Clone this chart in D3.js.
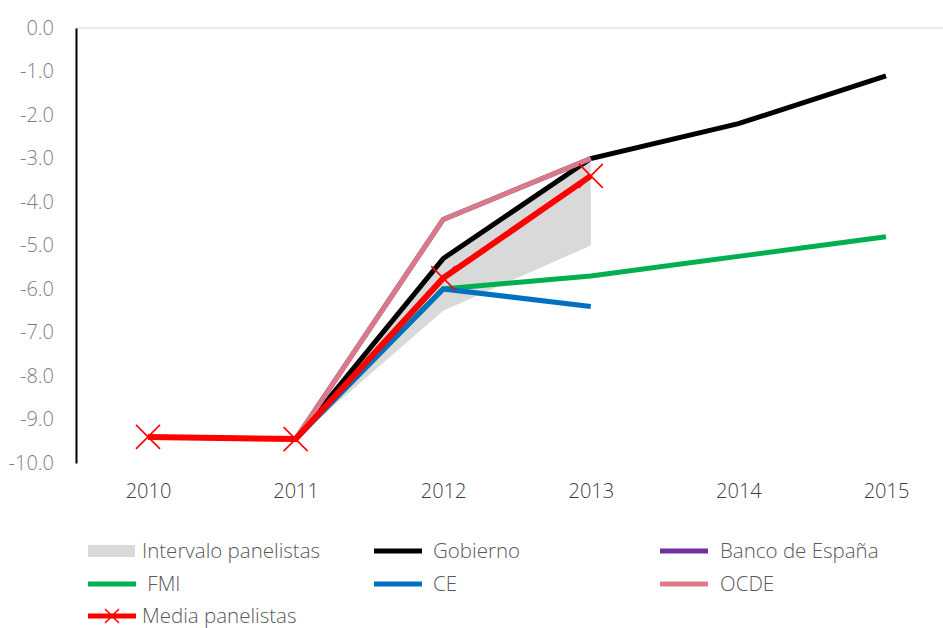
<!DOCTYPE html>
<html>
<head>
<meta charset="utf-8">
<script src="https://cdn.jsdelivr.net/npm/d3@7"></script>
<style>
  body { margin: 0; background: #fff; }
  text { font-family: "Open Sans", sans-serif; }
</style>
</head>
<body>
<div id="chart"></div>
<script>
// categories
var years = ["2010", "2011", "2012", "2013", "2014", "2015"];
var yTicks = [0, -1, -2, -3, -4, -5, -6, -7, -8, -9, -10];

// series values (null = no data)
var gobierno = [null, -9.45, -5.3, -3.0, -2.2, -1.1];
var bancoEspana = [null, -9.45, -4.4, -3.0, null, null];
var fmi = [null, -9.45, -6.0, -5.7, -5.25, -4.8];
var ce = [null, -9.45, -6.0, -6.4, null, null];
var ocde = [null, -9.45, -4.4, -3.0, null, null];
var media = [-9.4, -9.45, -5.75, -3.4, null, null];
var intervaloLow = [null, -9.45, -6.5, -5.0, null, null];
var intervaloHigh = [null, -9.45, -5.3, -3.0, null, null];

var width = 943, height = 628;

var svg = d3.select("#chart").append("svg")
    .attr("width", width)
    .attr("height", height);

var x = d3.scalePoint().domain(years).range([148, 886]);
var y = d3.scaleLinear().domain([-10, 0]).range([463, 28]);

// top gridline
svg.append("line")
    .attr("x1", 76).attr("x2", width)
    .attr("y1", y(0)).attr("y2", y(0))
    .attr("stroke", "#d9d9d9").attr("stroke-width", 1);

// y axis
var yAxis = d3.axisLeft(y)
    .tickValues(yTicks)
    .tickSize(0)
    .tickPadding(22)
    .tickFormat(function (d) { return d3.format(".1f")(d).replace("\u2212", "-"); });

var gy = svg.append("g")
    .attr("transform", "translate(76,0)")
    .call(yAxis);
gy.select(".domain").attr("stroke", "#000").attr("stroke-width", 2);
gy.selectAll("text")
    .attr("fill", "#7f7f7f")
    .attr("font-size", "20px")
    .attr("font-weight", 300);

// x axis labels (no line)
var gx = svg.append("g")
    .attr("transform", "translate(0,463)")
    .call(d3.axisBottom(x).tickSize(0).tickPadding(21));
gx.select(".domain").remove();
gx.selectAll("text")
    .attr("fill", "#404040")
    .attr("font-size", "20px")
    .attr("font-weight", 300);

// interval area
var areaData = years.map(function (yr, i) {
    return { year: yr, lo: intervaloLow[i], hi: intervaloHigh[i] };
});
svg.append("path")
    .datum(areaData)
    .attr("fill", "#d9d9d9")
    .attr("d", d3.area()
        .defined(function (d) { return d.lo !== null; })
        .x(function (d) { return x(d.year); })
        .y0(function (d) { return y(d.lo); })
        .y1(function (d) { return y(d.hi); }));

var line = d3.line()
    .defined(function (d) { return d.v !== null; })
    .x(function (d) { return x(d.year); })
    .y(function (d) { return y(d.v); });

function toPoints(values) {
    return years.map(function (yr, i) { return { year: yr, v: values[i] }; });
}

var series = [
    { name: "Gobierno", values: gobierno, color: "#000000", w: 5 },
    { name: "Banco de España", values: bancoEspana, color: "#7030a0", w: 5 },
    { name: "FMI", values: fmi, color: "#00b050", w: 5 },
    { name: "CE", values: ce, color: "#0070c0", w: 5 },
    { name: "OCDE", values: ocde, color: "#d97a88", w: 5 },
    { name: "Media panelistas", values: media, color: "#ff0000", w: 6 }
];

series.forEach(function (s) {
    svg.append("path")
        .datum(toPoints(s.values))
        .attr("fill", "none")
        .attr("stroke", s.color)
        .attr("stroke-width", s.w)
        .attr("d", line);
});

// X markers on media
var xs = 12;
svg.selectAll(".xmark")
    .data(toPoints(media).filter(function (d) { return d.v !== null; }))
    .enter().append("g")
    .attr("class", "xmark")
    .attr("transform", function (d) { return "translate(" + x(d.year) + "," + y(d.v) + ")"; })
    .each(function () {
        var g = d3.select(this);
        g.append("line").attr("x1", -xs).attr("y1", -xs).attr("x2", xs).attr("y2", xs);
        g.append("line").attr("x1", -xs).attr("y1", xs).attr("x2", xs).attr("y2", -xs);
    })
    .selectAll("line")
    .attr("stroke", "#ff0000")
    .attr("stroke-width", 1.6);

// legend
var legendItems = [
    { name: "Intervalo panelistas", type: "area", color: "#d9d9d9", col: 0, row: 0 },
    { name: "Gobierno", type: "line", color: "#000000", col: 1, row: 0 },
    { name: "Banco de España", type: "line", color: "#7030a0", col: 2, row: 0 },
    { name: " FMI", type: "line", color: "#00b050", col: 0, row: 1 },
    { name: "CE", type: "line", color: "#0070c0", col: 1, row: 1 },
    { name: "OCDE", type: "line", color: "#e07a86", col: 2, row: 1 },
    { name: "Media panelistas", type: "marker", color: "#ff0000", col: 0, row: 2 }
];
var colX = [88, 374, 660];
var textOff = [54, 59, 60];
var rowY = [551, 584, 616];

var lg = svg.selectAll(".legend")
    .data(legendItems)
    .enter().append("g")
    .attr("class", "legend")
    .attr("transform", function (d) { return "translate(" + colX[d.col] + "," + rowY[d.row] + ")"; });

lg.each(function (d) {
    var g = d3.select(this);
    if (d.type === "area") {
        g.append("rect").attr("x", 0).attr("y", -6).attr("width", 47).attr("height", 12).attr("fill", d.color);
    } else {
        g.append("line").attr("x1", 0).attr("x2", 48).attr("y1", 0).attr("y2", 0)
            .attr("stroke", d.color).attr("stroke-width", 5);
    }
    if (d.type === "marker") {
        g.append("line").attr("x1", 17).attr("y1", -7).attr("x2", 31).attr("y2", 7)
            .attr("stroke", d.color).attr("stroke-width", 1.6);
        g.append("line").attr("x1", 17).attr("y1", 7).attr("x2", 31).attr("y2", -7)
            .attr("stroke", d.color).attr("stroke-width", 1.6);
    }
    g.append("text")
        .attr("x", textOff[d.col])
        .attr("y", 0)
        .attr("dy", "0.35em")
        .attr("fill", "#595959")
        .attr("font-size", "20.5px")
        .attr("font-weight", 300)
        .style("white-space", "pre")
        .text(d.name);
});
</script>
</body>
</html>
